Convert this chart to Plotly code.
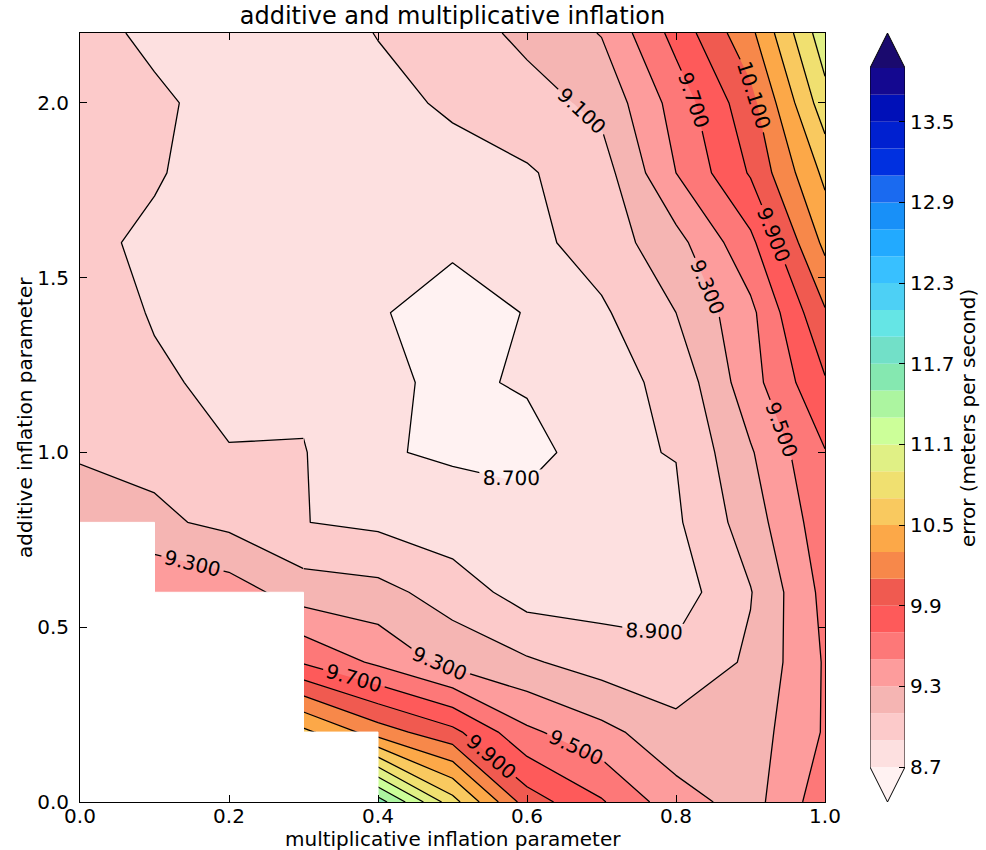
import plotly.graph_objects as go

# ---------------- data ----------------
x_vals = [0.0, 0.1, 0.2, 0.3, 0.4, 0.5, 0.6, 0.7, 0.8, 0.9, 1.0]      # multiplicative inflation
y_vals = [0.0, 0.2, 0.4, 0.6, 0.8, 1.0, 1.2, 1.4, 1.6, 1.8, 2.0, 2.2]  # additive inflation

# error (m/s); one list per additive-inflation value, None = no result
err_y00 = [None, None, None, None, 11.60, 10.78, 10.00, 9.72, 9.38, 9.22, 9.62]
err_y02 = [None, None, None, 10.55, 10.20, 9.955, 9.54, 9.36, 9.17, 9.20, 9.52]
err_y04 = [None, None, None, 9.68, 9.46, 9.235, 9.127, 9.01, 8.96, 9.13, 9.52]
err_y06 = [None, 9.49, 9.40, 9.20, 9.164, 9.01, 8.81, 8.81, 8.80, 9.09, 9.56]
err_y08 = [9.20, 9.14, 9.05, 8.904, 8.86, 8.78, 8.85, 8.80, 8.87, 9.20, 9.62]
err_y10 = [9.08, 9.045, 8.905, 8.91, 8.713, 8.68, 8.58, 8.88, 8.905, 9.28, 9.69]
err_y12 = [9.02, 8.92, 8.87, 8.86, 8.76, 8.64, 8.735, 8.82, 8.96, 9.42, 9.88]
err_y14 = [8.97, 8.89, 8.78, 8.74, 8.72, 8.60, 8.71, 8.87, 9.10, 9.45, 10.08]
err_y16 = [8.95, 8.86, 8.78, 8.75, 8.75, 8.74, 8.84, 8.99, 9.23, 9.65, 10.35]
err_y18 = [8.98, 8.92, 8.80, 8.78, 8.80, 8.85, 8.88, 9.01, 9.50, 9.92, 10.55]
err_y20 = [9.00, 8.94, 8.82, 8.80, 8.86, 8.92, 9.02, 9.15, 9.58, 10.03, 10.82]
err_y22 = [8.98, 8.85, 8.80, 8.83, 8.905, 9.00, 9.15, 9.31, 9.77, 10.25, 11.03]

err_grid = [err_y00, err_y02, err_y04, err_y06, err_y08, err_y10,
            err_y12, err_y14, err_y16, err_y18, err_y20, err_y22]

# contour levels and colours
level_start, level_end, level_step = 8.7, 13.9, 0.2
labeled_end = 10.5          # lines 8.7 ... 10.5 carry labels
left_labeled_level = 9.3    # only label shown in the upper-left block
tick_vals = [8.7, 9.3, 9.9, 10.5, 11.1, 11.7, 12.3, 12.9, 13.5]
under_color = "#fff2f2"
over_color = "#1a0a6e"
band_colors = [
    "#fde0e0", "#fccaca", "#f5b5b3", "#fd9c9c", "#fd7878", "#fe5a5a",
    "#f05a50", "#f7884a", "#fca848", "#f9c95f", "#f0e070", "#e0f085",
    "#ccff99", "#acf5a0", "#85e8b0", "#72e0c8", "#65e5e5", "#4dd0f5",
    "#38c0ff", "#22aaff", "#1890f8", "#1a6af0", "#0030e0", "#0020d0",
    "#0010b8", "#140890",
]

FONT = "DejaVu Sans"
FS = 20

# ---------------- derived ----------------
n_levels = len(band_colors) + 1
levels = [round(level_start + k * level_step, 4) for k in range(n_levels)]

# stepped colourscale matching plotly's contour fill colour map
all_cols = [under_color] + band_colors + [over_color]
span = len(all_cols) - 1
cscale = []
for k, c in enumerate(all_cols):
    cscale.append([max(0.0, (k - 0.5) / span), c])
    cscale.append([min(1.0, (k + 0.5) / span), c])

nx, ny = len(x_vals), len(y_vals)

# line traces: missing points get a stand-in value (their cells are hidden anyway)
fill_above = [row[:] for row in err_grid]
for i in range(nx):
    for j in range(ny - 1, -1, -1):
        if fill_above[j][i] is None:
            fill_above[j][i] = fill_above[j + 1][i]
fill_right = [row[:] for row in err_grid]
for j in range(ny):
    for i in range(nx - 2, -1, -1):
        if fill_right[j][i] is None:
            fill_right[j][i] = fill_right[j][i + 1]

# split the lines into two blocks around the missing-data corner so that
# labels never sit on hidden parts of a line
split_col = max(i for i in range(nx) if any(err_grid[j][i] is None for j in range(ny)))
split_row = max(j for j in range(ny) if any(err_grid[j][i] is None for i in range(split_col)))
right_x = x_vals[split_col:]
right_z = [row[split_col:] for row in fill_above]
left_x = x_vals[:split_col + 1]
left_y = y_vals[split_row:]
left_z = [row[:split_col + 1] for row in fill_right[split_row:]]
left_full_z = [row[:split_col + 1] for row in fill_above]

fig = go.Figure()

# filled contours
fig.add_trace(go.Contour(
    x=x_vals, y=y_vals, z=err_grid,
    autocontour=False,
    contours=dict(start=level_start, end=level_end, size=level_step,
                  coloring="fill", showlines=False),
    colorscale=cscale, showscale=False,
    line=dict(width=0, smoothing=0),
    hoverinfo="skip",
))

line_style = dict(color="black", width=1.3, smoothing=0)
label_font = dict(family=FONT, size=FS, color="black")


def add_lines(xs, ys, zs, start, end, labels):
    if end < start - 1e-9:
        return
    fig.add_trace(go.Contour(
        x=xs, y=ys, z=zs, autocontour=False,
        contours=dict(start=start, end=end, size=level_step, coloring="none",
                      showlabels=labels, labelformat=".3f", labelfont=label_font),
        line=line_style, showscale=False, hoverinfo="skip",
    ))


# right block
add_lines(right_x, y_vals, right_z, level_start, labeled_end, True)
add_lines(right_x, y_vals, right_z, labeled_end + level_step, level_end, False)
# upper-left block
add_lines(left_x, left_y, left_z, level_start, left_labeled_level - level_step, False)
add_lines(left_x, y_vals, left_full_z, left_labeled_level, left_labeled_level, True)
add_lines(left_x, left_y, left_z, left_labeled_level + level_step, level_end, False)

# blank out grid cells touching missing values (as matplotlib does)
def cell_masked(j, i):
    return (err_grid[j][i] is None or err_grid[j][i + 1] is None or
            err_grid[j + 1][i] is None or err_grid[j + 1][i + 1] is None)

mx, my = [], []
for j in range(ny - 1):
    i = 0
    while i < nx - 1:
        if cell_masked(j, i):
            i0 = i
            while i < nx - 1 and cell_masked(j, i):
                i += 1
            xa, xb = x_vals[i0], x_vals[i]
            ya, yb = y_vals[j], y_vals[j + 1]
            mx += [xa, xb, xb, xa, xa, None]
            my += [ya, ya, yb, yb, ya, None]
        else:
            i += 1
fig.add_trace(go.Scatter(x=mx, y=my, mode="lines", fill="toself",
                         fillcolor="white", line=dict(color="white", width=1),
                         hoverinfo="skip", showlegend=False))

# ---------------- colour bar (own axes) ----------------
ext = (level_end - level_start) * 0.05
fig.add_trace(go.Bar(
    x=[0.5] * len(band_colors), y=[level_step] * len(band_colors),
    base=levels[:-1], width=1.0,
    marker=dict(color=band_colors, line=dict(width=0)),
    xaxis="x2", yaxis="y2", hoverinfo="skip", showlegend=False,
))
fig.add_trace(go.Scatter(
    x=[0, 1, 0.5, 0], y=[level_start, level_start, level_start - ext, level_start],
    fill="toself", fillcolor=under_color, mode="lines", line=dict(width=0),
    xaxis="x2", yaxis="y2", hoverinfo="skip", showlegend=False))
fig.add_trace(go.Scatter(
    x=[0, 1, 0.5, 0], y=[level_end, level_end, level_end + ext, level_end],
    fill="toself", fillcolor=over_color, mode="lines", line=dict(width=0),
    xaxis="x2", yaxis="y2", hoverinfo="skip", showlegend=False))
fig.add_trace(go.Scatter(
    x=[0, 0, 0.5, 1, 1, 0.5, 0],
    y=[level_start, level_end, level_end + ext, level_end, level_start,
       level_start - ext, level_start],
    mode="lines", line=dict(color="black", width=1),
    xaxis="x2", yaxis="y2", hoverinfo="skip", showlegend=False))

W, H = 986, 850
ml, mr, mt, mb = 80, 81, 33, 48
pw = W - ml - mr
ph = H - mt - mb
main_right = (825 - ml) / pw
cb_left = (870 - ml) / pw

axis_common = dict(showline=True, linecolor="black", linewidth=1, mirror="ticks",
                   ticks="inside", ticklen=7, tickcolor="black", showgrid=False,
                   zeroline=False, automargin=False,
                   tickfont=dict(family=FONT, size=FS, color="black"))

title_font = dict(family=FONT, size=FS, color="black")
fig.update_layout(
    width=W, height=H,
    margin=dict(l=ml, r=mr, t=mt, b=mb, autoexpand=False),
    paper_bgcolor="white", plot_bgcolor="white",
    font=dict(family=FONT, color="black"),
    showlegend=False,
    barmode="overlay",
    title=dict(text="additive and multiplicative inflation",
               font=dict(family=FONT, size=24, color="black"),
               x=(452.5 - ml) / pw, xanchor="center", xref="paper",
               y=1 - 16 / H, yanchor="middle", yref="container"),
    xaxis=dict(domain=[0, main_right], range=[0, 1], tickvals=[0, 0.2, 0.4, 0.6, 0.8, 1.0],
               tickformat=".1f", ticklabelstandoff=-4, **axis_common),
    yaxis=dict(domain=[0, 1], range=[0, 2.2], tickvals=[0, 0.5, 1.0, 1.5, 2.0],
               tickformat=".1f", ticklabelstandoff=6, **axis_common),
    xaxis2=dict(domain=[cb_left, 1.0], range=[0, 1], anchor="y2", visible=False,
                fixedrange=True, automargin=False),
    yaxis2=dict(domain=[0, 1], range=[level_start - ext, level_end + ext], anchor="x2",
                side="right", tickvals=tick_vals,
                ticktext=[f"{v:.1f}" for v in tick_vals],
                ticks="inside", ticklen=6, tickcolor="black", showgrid=False,
                zeroline=False, showline=False, ticklabelstandoff=4, automargin=False,
                tickfont=dict(family=FONT, size=FS, color="black")),
    annotations=[
        dict(text="multiplicative inflation parameter",
             x=(452.5 - ml) / pw, y=-(839 - (H - mb)) / ph, xref="paper", yref="paper",
             xanchor="center", yanchor="middle", showarrow=False, font=title_font),
        dict(text="additive inflation parameter", textangle=-90,
             x=(25 - ml) / pw, y=(H - mb - 418) / ph, xref="paper", yref="paper",
             xanchor="center", yanchor="middle", showarrow=False, font=title_font),
        dict(text="error (meters per second)", textangle=-90,
             x=(968 - ml) / pw, y=(H - mb - 418) / ph, xref="paper", yref="paper",
             xanchor="center", yanchor="middle", showarrow=False, font=title_font),
    ],
)

fig.write_html("out.html")
